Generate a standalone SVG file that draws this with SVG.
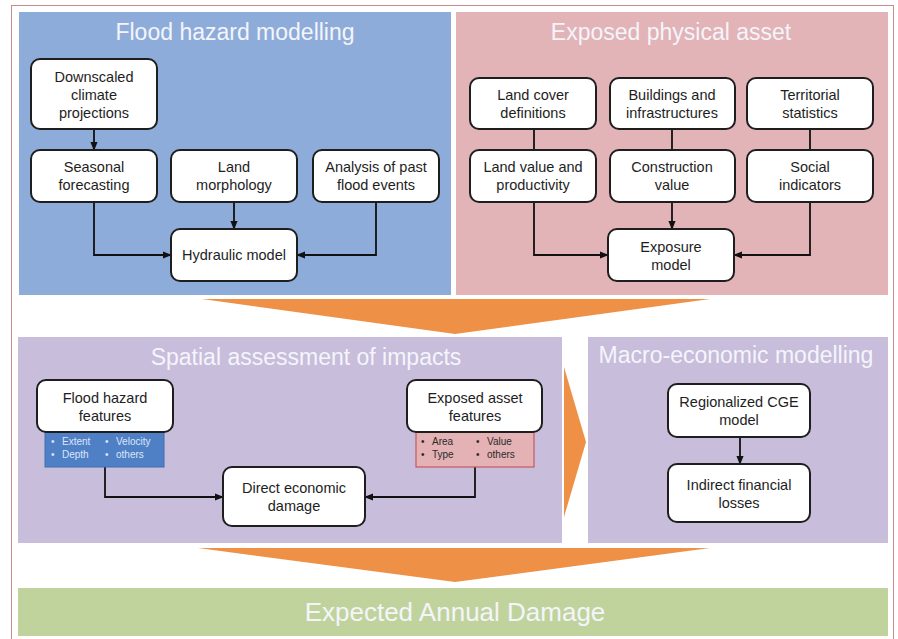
<svg xmlns="http://www.w3.org/2000/svg" width="898" height="639" viewBox="0 0 898 639">
<defs>
<marker id="ah" viewBox="0 0 10 10" refX="9" refY="5" markerWidth="5" markerHeight="5" orient="auto" markerUnits="strokeWidth"><path d="M0,1 L10,5 L0,9 z" fill="#111"/></marker>
<style>
.panelTitle{font-family:"Liberation Sans",Arial,sans-serif;font-size:23px;fill:#f4f5fb;text-anchor:middle}
.box{fill:#fff;stroke:#1e1e1e;stroke-width:2}
.t{font-family:"Liberation Sans",Arial,sans-serif;font-size:14.5px;fill:#1e1e1e;text-anchor:middle}
.lst{font-family:"Liberation Sans",Arial,sans-serif;font-size:10px}
.c{fill:none;stroke:#111;stroke-width:1.8}
.ca{fill:none;stroke:#111;stroke-width:1.8;marker-end:url(#ah)}
.orange{fill:#ee9147}
</style>
</defs>
<rect x="0" y="0" width="898" height="639" fill="#fff"/>
<rect x="11.5" y="5.5" width="882" height="640" fill="none" stroke="#c98b8e" stroke-width="1"/>

<g id="panel-flood-hazard">
<rect x="19" y="12" width="432" height="283" fill="#8eacd9"/>
<text class="panelTitle" x="235" y="40">Flood hazard modelling</text>
</g>
<g id="panel-exposed-asset">
<rect x="456" y="12" width="432" height="283" fill="#e2b3b7"/>
<text class="panelTitle" x="671" y="40">Exposed physical asset</text>
</g>
<g id="panel-spatial">
<rect x="18" y="337" width="544" height="206" fill="#c8bddb"/>
<text class="panelTitle" x="306" y="365">Spatial assessment of impacts</text>
</g>
<g id="panel-macro">
<rect x="588" y="337" width="300" height="206" fill="#c8bddb"/>
<text class="panelTitle" x="736" y="363">Macro-economic modelling</text>
</g>
<g id="panel-ead">
<rect x="18" y="588" width="870" height="48" fill="#c1d39d"/>
<text class="panelTitle" x="455" y="621" style="font-size:26px">Expected Annual Damage</text>
</g>

<g id="big-arrows">
<polygon class="orange" points="202,299 710,299 455,334"/>
<polygon class="orange" points="564,367 586,442 564,517"/>
<polygon class="orange" points="198,548 710,548 455,582"/>
</g>

<g id="connectors">
<line class="ca" x1="94" y1="129" x2="94" y2="150"/>
<polyline class="ca" points="94,202 94,255 171,255"/>
<line class="ca" x1="234" y1="202" x2="234" y2="229"/>
<polyline class="ca" points="376,202 376,255 297,255"/>
<line class="c" x1="534" y1="129" x2="534" y2="150"/>
<line class="c" x1="672" y1="129" x2="672" y2="150"/>
<line class="c" x1="810" y1="129" x2="810" y2="150"/>
<polyline class="ca" points="534,202 534,255 608,255"/>
<line class="ca" x1="672" y1="202" x2="672" y2="229"/>
<polyline class="ca" points="810,202 810,255 734,255"/>
<polyline class="ca" points="105,467 105,497 223,497"/>
<polyline class="ca" points="475,467 475,497 365,497"/>
<line class="ca" x1="740" y1="437" x2="740" y2="464"/>
</g>

<g id="node-downscaled">
<rect class="box" x="31" y="59" width="126" height="70" rx="9"/>
<text class="t" x="94" y="82">Downscaled</text>
<text class="t" x="94" y="100">climate</text>
<text class="t" x="94" y="118">projections</text>
</g>
<g id="node-seasonal">
<rect class="box" x="31" y="150" width="126" height="52" rx="9"/>
<text class="t" x="94" y="172">Seasonal</text>
<text class="t" x="94" y="190">forecasting</text>
</g>
<g id="node-land-morphology">
<rect class="box" x="171" y="150" width="126" height="52" rx="9"/>
<text class="t" x="234" y="172">Land</text>
<text class="t" x="234" y="190">morphology</text>
</g>
<g id="node-past-events">
<rect class="box" x="313" y="150" width="126" height="52" rx="9"/>
<text class="t" x="376" y="172">Analysis of past</text>
<text class="t" x="376" y="190">flood events</text>
</g>
<g id="node-hydraulic">
<rect class="box" x="171" y="229" width="126" height="52" rx="9"/>
<text class="t" x="234" y="260">Hydraulic model</text>
</g>

<g id="node-land-cover">
<rect class="box" x="470" y="78" width="126" height="51" rx="9"/>
<text class="t" x="533" y="100">Land cover</text>
<text class="t" x="533" y="118">definitions</text>
</g>
<g id="node-buildings">
<rect class="box" x="610" y="78" width="125" height="51" rx="9"/>
<text class="t" x="672" y="100">Buildings and</text>
<text class="t" x="672" y="118">infrastructures</text>
</g>
<g id="node-territorial">
<rect class="box" x="747" y="78" width="126" height="51" rx="9"/>
<text class="t" x="810" y="100">Territorial</text>
<text class="t" x="810" y="118">statistics</text>
</g>
<g id="node-land-value">
<rect class="box" x="470" y="150" width="126" height="52" rx="9"/>
<text class="t" x="533" y="172">Land value and</text>
<text class="t" x="533" y="190">productivity</text>
</g>
<g id="node-construction">
<rect class="box" x="610" y="150" width="125" height="52" rx="9"/>
<text class="t" x="672" y="172">Construction</text>
<text class="t" x="672" y="190">value</text>
</g>
<g id="node-social">
<rect class="box" x="747" y="150" width="126" height="52" rx="9"/>
<text class="t" x="810" y="172">Social</text>
<text class="t" x="810" y="190">indicators</text>
</g>
<g id="node-exposure">
<rect class="box" x="608" y="229" width="126" height="52" rx="9"/>
<text class="t" x="671" y="252">Exposure</text>
<text class="t" x="671" y="270">model</text>
</g>

<g id="node-flood-features">
<rect x="45" y="432" width="119" height="35" fill="#4f80c6" stroke="#3e6db2" stroke-width="1"/>
<g class="lst" fill="#dce6f6">
<text x="51" y="445">•</text><text x="62" y="445">Extent</text>
<text x="105" y="445">•</text><text x="116" y="445">Velocity</text>
<text x="51" y="458">•</text><text x="62" y="458">Depth</text>
<text x="105" y="458">•</text><text x="116" y="458">others</text>
</g>
<rect class="box" x="37" y="380" width="136" height="52" rx="9"/>
<text class="t" x="105" y="403">Flood hazard</text>
<text class="t" x="105" y="421">features</text>
</g>
<g id="node-asset-features">
<rect x="416" y="432" width="118" height="35" fill="#e4b2b5" stroke="#c9585e" stroke-width="1.2"/>
<g class="lst" fill="#2a2a2a">
<text x="421" y="445">•</text><text x="432" y="445">Area</text>
<text x="476" y="445">•</text><text x="487" y="445">Value</text>
<text x="421" y="458">•</text><text x="432" y="458">Type</text>
<text x="476" y="458">•</text><text x="487" y="458">others</text>
</g>
<rect class="box" x="407" y="380" width="135" height="52" rx="9"/>
<text class="t" x="475" y="403">Exposed asset</text>
<text class="t" x="475" y="421">features</text>
</g>
<g id="node-direct-damage">
<rect class="box" x="223" y="467" width="142" height="59" rx="9"/>
<text class="t" x="294" y="493">Direct economic</text>
<text class="t" x="294" y="511">damage</text>
</g>

<g id="node-cge">
<rect class="box" x="668" y="384" width="142" height="53" rx="9"/>
<text class="t" x="739" y="407">Regionalized CGE</text>
<text class="t" x="739" y="425">model</text>
</g>
<g id="node-indirect">
<rect class="box" x="668" y="464" width="142" height="58" rx="9"/>
<text class="t" x="739" y="490">Indirect financial</text>
<text class="t" x="739" y="508">losses</text>
</g>
</svg>
